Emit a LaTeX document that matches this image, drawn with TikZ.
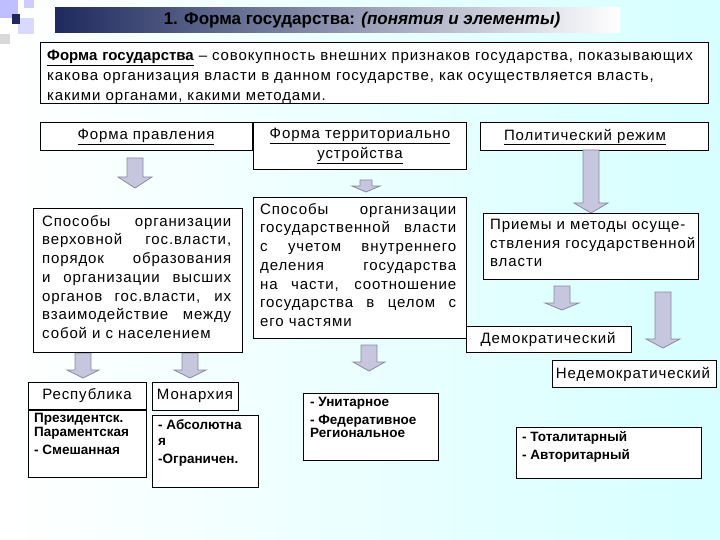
\documentclass[tikz,border=0pt]{standalone}
\usepackage{fontspec}
\setmainfont[LetterSpace=6]{Liberation Sans}
\newfontfamily\plainfont{Liberation Sans}
\definecolor{arrfill}{HTML}{C6C6DE}
\definecolor{arrline}{HTML}{8A8AA0}
\definecolor{navy}{HTML}{1E2A5E}
\begin{document}
\begin{tikzpicture}[x=1pt,y=-1pt,
  bx/.style={draw=black,fill=white,line width=0.8pt},
  txt/.style={font=\fontsize{15}{18.7}\selectfont,align=justify,text width=#1,inner sep=0pt,anchor=north west},
  ctr/.style={font=\fontsize{15}{16}\selectfont,inner sep=0pt},
  bld/.style={font=\plainfont\bfseries\fontsize{13.5}{19}\selectfont,align=left,inner sep=0pt,anchor=north west}]
\useasboundingbox (0,0) rectangle (720,540);
\shade[left color=white,right color=cyan!16] (0,0) rectangle (720,540);
% decorative squares
\fill[blue!25] (0,0) rectangle (18,18);
\fill[blue!15] (18,18) rectangle (34,34);
\fill[gray!30] (0,34) rectangle (10,44);
\fill[blue!20] (24,0) rectangle (34,8);
\fill[navy] (12,14) rectangle (20,24);
\shade[left color=navy,right color=navy!0] (55,8) rectangle (620,33);
\node[font=\plainfont\bfseries\fontsize{17}{20}\selectfont,text=black] (title) at (362,20) {1. Форма государства: \textit{(понятия и элементы)}};
% definition
\draw[bx] (40,42) rectangle (708,103);
\node[txt=658pt,align=left,font=\fontsize{15}{20}\selectfont] (def) at (47,50) {{\plainfont\bfseries\underline{Форма государства}} – совокупность внешних признаков государства, показывающих какова организация власти в данном государстве, как осуществляется власть, какими органами, какими методами.};
% headers
\draw[bx] (40,122) rectangle (252,150);
\node[ctr] (h1) at (146,137) {\underline{Форма правления}};
\draw[bx] (253,122) rectangle (466,169);
\node[ctr,align=center,font=\fontsize{15}{20}\selectfont] (h2) at (360,146) {\underline{Форма территориально}\\\underline{устройства}};
\draw[bx] (480,122) rectangle (708,150);
\node[ctr] (h3) at (585,137) {\underline{Политический режим}};
% arrows: x, top, head base, tip, shaft hw, head hw
\newcommand{\barr}[6]{%
  \draw[fill=arrfill,draw=arrline,line width=0.8pt] (#1-#5,#2) -- (#1+#5,#2) -- (#1+#5,#3) -- (#1+#6,#3) -- (#1,#4) -- (#1-#6,#3) -- (#1-#5,#3) -- cycle;}
\barr{135}{158}{177}{188}{8}{17}
\barr{366}{180}{186}{192}{6}{14}
\barr{591}{150}{203}{213}{8}{17}
\barr{83}{353}{370}{378}{8}{16}
\barr{190}{353}{370}{378}{8}{16}
\barr{369}{345}{362}{371}{8}{16}
\barr{562}{286}{303}{310}{8}{17}
\barr{663}{292}{339}{348}{8}{17}
% text boxes
\draw[bx] (33,208) rectangle (242,352);
\node[txt=189pt] (t1) at (42,215) {Способы организации верховной гос.власти, порядок образования и организации высших органов гос.власти, их взаимодействие между собой и с населением};
\draw[bx] (253,197) rectangle (466,338);
\node[txt=196pt] (t2) at (260,203) {Способы организации государственной власти с учетом внутреннего деления государства на части, соотношение государства в целом с его частями};
\draw[bx] (483,213) rectangle (698,279);
\node[txt=205pt,align=left] (t3) at (490,219) {Приемы и методы осуще-\\ствления государственной\\власти};
\draw[bx] (466,326) rectangle (631,352);
\node[ctr] (dem) at (548,339) {Демократический};
\draw[bx] (552,360) rectangle (716,387);
\node[ctr] (ndem) at (633,374) {Недемократический};
% bottom
\draw[bx] (28,382) rectangle (146,410);
\node[ctr] (rep) at (87,396) {Республика};
\draw[bx] (28,410) rectangle (146,477);
\draw[line width=1.6pt] (28,410) -- (146,410);
\node[bld] (rep2) at (34,413) {Президентск.\\[-5pt]Параментская\\[-1pt]- Смешанная};
\draw[bx] (152,382) rectangle (238,410);
\node[ctr] (mon) at (195,396) {Монархия};
\draw[bx] (152,415) rectangle (258,487);
\node[bld] (mon2) at (158,419) {- Абсолютна\\[-3pt]я\\[-1pt]-Ограничен.};
\draw[bx] (303,393) rectangle (438,460);
\node[bld] (ter) at (310,397) {- Унитарное\\[-1pt]- Федеративное\\[-6pt]Региональное};
\draw[bx] (516,427) rectangle (701,478);
\node[bld] (reg) at (522,431) {- Тоталитарный\\[-1pt]- Авторитарный};
\end{tikzpicture}
\end{document}
